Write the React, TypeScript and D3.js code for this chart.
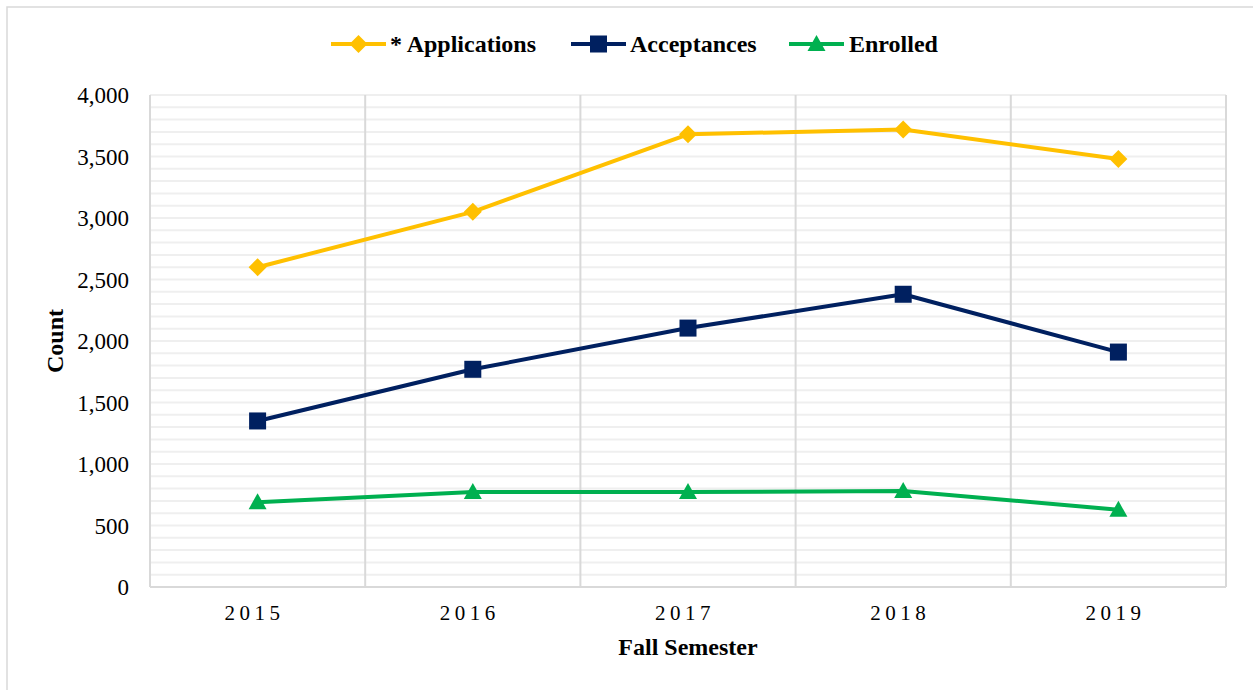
import React from 'react';
import * as d3 from 'd3';

const years = ['2015', '2016', '2017', '2018', '2019'];
const applications = [2600, 3050, 3680, 3720, 3480];
const acceptances = [1350, 1770, 2105, 2380, 1910];
const enrolled = [690, 772, 772, 780, 628];
const yTicks = [0, 500, 1000, 1500, 2000, 2500, 3000, 3500, 4000];

const seriesNames = ['* Applications', 'Acceptances', 'Enrolled'];
const seriesColors = ['#FFC000', '#002060', '#00B050'];
const seriesShapes = ['diamond', 'square', 'triangle'];

const W = 1253;
const H = 690;
const margin = { top: 95, right: 27, bottom: 103, left: 150 };
const font = '"Liberation Serif", "Times New Roman", "DejaVu Serif", serif';

const Marker = ({ shape, x, y, color }: { shape: string; x: number; y: number; color: string }) => {
  if (shape === 'diamond') {
    return <path d={`M${x},${y - 9}L${x + 9},${y}L${x},${y + 9}L${x - 9},${y}Z`} fill={color} />;
  }
  if (shape === 'square') {
    return <rect x={x - 8.5} y={y - 8.5} width={17} height={17} fill={color} />;
  }
  return <path d={`M${x},${y - 9}L${x + 9},${y + 7}L${x - 9},${y + 7}Z`} fill={color} />;
};

export default function App() {
  const x = d3.scaleBand().domain(years).range([margin.left, W - margin.right]);
  const y = d3.scaleLinear().domain([0, 4000]).range([H - margin.bottom, margin.top]);
  const minor = d3.range(100, 4001, 100);
  const data = [applications, acceptances, enrolled];

  const line = d3.line<number>()
    .x((d, i) => (x(years[i]) as number) + x.bandwidth() / 2)
    .y(d => y(d));

  const legendItems = [
    { lineX: 331, textX: 390 },
    { lineX: 571, textX: 630 },
    { lineX: 789, textX: 849 },
  ];

  return (
    <svg width={W} height={H} style={{ position: 'absolute', left: 0, top: 0, background: '#fff', fontFamily: font }}>
      <rect x={7} y={7} width={W} height={H} fill="#fff" stroke="#d9d9d9" strokeWidth={1.5} />

      {/* horizontal gridlines */}
      {minor.map(v => (
        <line key={v} x1={margin.left} x2={W - margin.right} y1={y(v)} y2={y(v)} stroke="#efefef" strokeWidth={2} />
      ))}
      {/* vertical separators */}
      {years.slice(1).map(yr => (
        <line key={yr} x1={x(yr)} x2={x(yr)} y1={margin.top} y2={H - margin.bottom} stroke="#d9d9d9" strokeWidth={2} />
      ))}
      <line x1={margin.left} x2={margin.left} y1={margin.top} y2={H - margin.bottom} stroke="#d9d9d9" strokeWidth={2} />
      <line x1={W - margin.right} x2={W - margin.right} y1={margin.top} y2={H - margin.bottom} stroke="#d9d9d9" strokeWidth={2} />
      <line x1={margin.left} x2={W - margin.right} y1={H - margin.bottom} y2={H - margin.bottom} stroke="#d9d9d9" strokeWidth={2} />

      {/* y ticks */}
      {yTicks.map(v => (
        <text key={v} x={129} y={y(v)} dy="0.35em" textAnchor="end" fontSize={23} fill="#000">
          {d3.format(',')(v)}
        </text>
      ))}
      {/* x ticks */}
      {years.map(yr => (
        <text key={yr} x={(x(yr) as number) + x.bandwidth() / 2 - 3} y={620} textAnchor="middle" fontSize={21} letterSpacing={4.5} fill="#000">
          {yr}
        </text>
      ))}

      <text x={688} y={655} textAnchor="middle" fontSize={24} fontWeight="bold">Fall Semester</text>
      <text transform={`translate(63,${y(2000)}) rotate(-90)`} textAnchor="middle" fontSize={24} fontWeight="bold">Count</text>

      {/* series */}
      {data.map((vals, s) => (
        <g key={s}>
          <path d={line(vals) || ''} fill="none" stroke={seriesColors[s]} strokeWidth={4} strokeLinejoin="round" />
          {vals.map((v, i) => (
            <Marker key={i} shape={seriesShapes[s]} x={(x(years[i]) as number) + x.bandwidth() / 2} y={y(v)} color={seriesColors[s]} />
          ))}
        </g>
      ))}

      {/* legend */}
      {legendItems.map((it, s) => (
        <g key={s}>
          <line x1={it.lineX} x2={it.lineX + 55} y1={44} y2={44} stroke={seriesColors[s]} strokeWidth={4} />
          <Marker shape={seriesShapes[s]} x={it.lineX + 27.5} y={44} color={seriesColors[s]} />
          <text x={it.textX} y={44} dy="0.35em" fontSize={24} fontWeight="bold">{seriesNames[s]}</text>
        </g>
      ))}
    </svg>
  );
}
